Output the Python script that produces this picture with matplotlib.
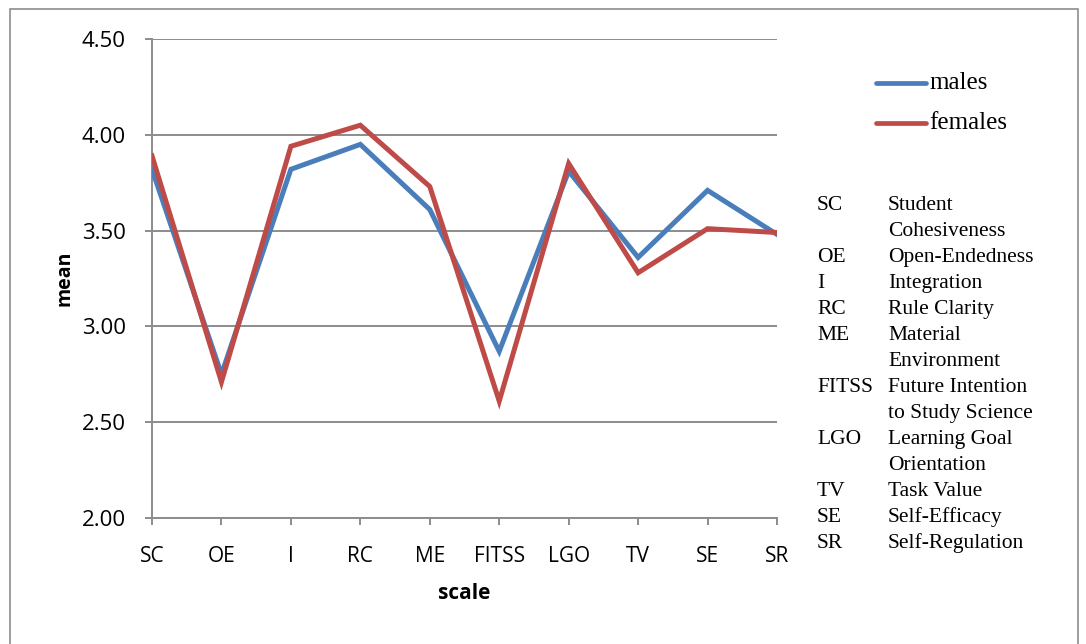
import matplotlib
matplotlib.use("Agg")
import matplotlib.pyplot as plt
from matplotlib.patches import Rectangle
from matplotlib.lines import Line2D

categories = ["SC", "OE", "I", "RC", "ME", "FITSS", "LGO", "TV", "SE", "SR"]
males = [3.82, 2.75, 3.82, 3.95, 3.61, 2.87, 3.81, 3.36, 3.71, 3.48]
females = [3.89, 2.71, 3.94, 4.05, 3.73, 2.61, 3.85, 3.28, 3.51, 3.49]
yticks = [2.00, 2.50, 3.00, 3.50, 4.00, 4.50]
abbr = ["SC", "", "OE", "I", "RC", "ME", "", "FITSS", "", "LGO", "", "TV", "SE", "SR"]
desc = ["Student", "Cohesiveness", "Open-Endedness", "Integration", "Rule Clarity",
        "Material", "Environment", "Future Intention", "to Study Science",
        "Learning Goal", "Orientation", "Task Value", "Self-Efficacy", "Self-Regulation"]

W, H = 1086, 644
fig = plt.figure(figsize=(W / 100, H / 100), dpi=100)
fig.patch.set_facecolor("white")

# outer frame
fig.add_artist(Rectangle((10 / W, -0.1), 1068 / W, 1.1 - 9 / H, transform=fig.transFigure,
                         fill=False, edgecolor="#8c8c8c", linewidth=1.2))

ax = fig.add_axes([152 / W, (H - 518) / H, 625 / W, 479 / H])
x = list(range(len(categories)))
blue = "#4A7EBB"
red = "#BE4B48"
ax.plot(x, males, color=blue, linewidth=3.6, solid_joinstyle="miter", zorder=3)
ax.plot(x, females, color=red, linewidth=3.6, solid_joinstyle="miter", zorder=4)

ax.set_xlim(0, 9)
ax.set_ylim(2.0, 4.5)
ax.set_yticks(yticks)
ax.set_yticklabels([f"{v:.2f}" for v in yticks])
ax.set_xticks(x)
ax.set_xticklabels(categories)
ax.grid(axis="y", color="#8c8c8c", linewidth=1.4, zorder=1)
for s in ["top", "right"]:
    ax.spines[s].set_visible(False)
for s in ["left", "bottom"]:
    ax.spines[s].set_color("#8c8c8c")
    ax.spines[s].set_linewidth(1.4)
ax.tick_params(axis="y", length=5, color="#8c8c8c", width=1.4, labelsize=16, pad=14)
ax.tick_params(axis="x", length=5, color="#8c8c8c", width=1.4, labelsize=15, pad=15)
for lab in ax.get_xticklabels() + ax.get_yticklabels():
    lab.set_fontfamily("Open Sans")
ax.set_ylabel("mean", fontsize=14, fontweight="bold", fontfamily="Open Sans", labelpad=5)
ax.set_xlabel("scale", fontsize=15, fontweight="bold", fontfamily="Open Sans", labelpad=12)
ax.set_axisbelow(True)

# legend
for yy, col, name in [(83, blue, "males"), (123, red, "females")]:
    fig.add_artist(Line2D([876 / W, 926 / W], [1 - yy / H, 1 - yy / H], color=col,
                          linewidth=3.4, solid_capstyle="round", transform=fig.transFigure))
    fig.text(929 / W, 1 - yy / H, name, fontsize=18, fontfamily="Liberation Serif",
             va="center", ha="left")

# abbreviation table
y0 = 210
for i, (a, d) in enumerate(zip(abbr, desc)):
    yy = y0 + i * 26
    if a:
        fig.text(817 / W, 1 - yy / H, a, fontsize=15.5, fontfamily="Liberation Serif",
                 va="baseline", ha="left")
    fig.text(888 / W, 1 - yy / H, d, fontsize=15.5, fontfamily="Liberation Serif",
             va="baseline", ha="left")

fig.savefig("out.png", dpi=100)
